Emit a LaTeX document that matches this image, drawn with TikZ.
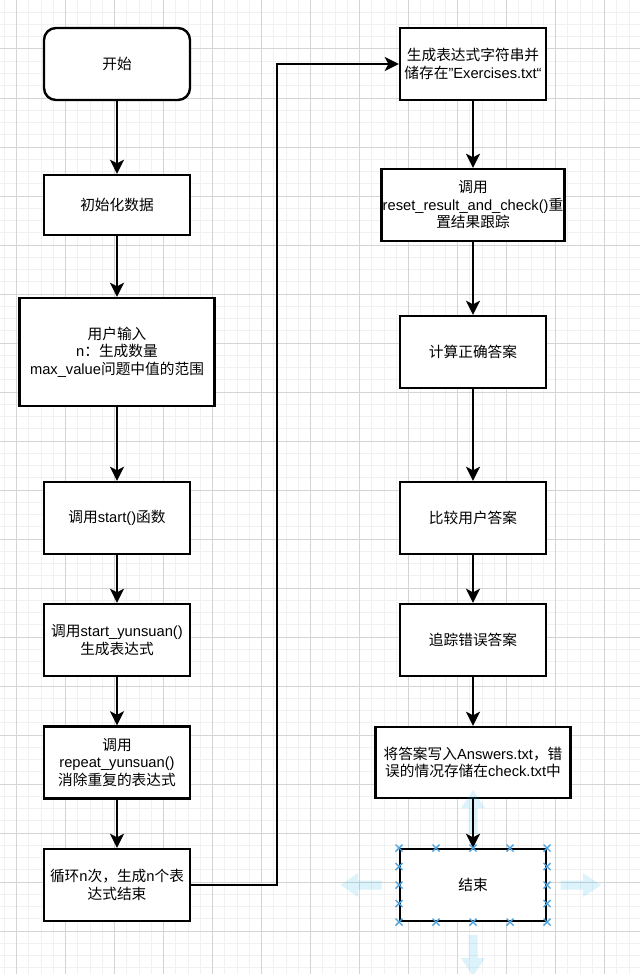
\documentclass[tikz,border=0pt]{standalone}
\usepackage{fontspec}
\setmainfont{Liberation Sans}
\newfontfamily\cjk{Noto Sans CJK SC}
\newcommand\zh[1]{{\cjk #1}}
\usetikzlibrary{arrows.meta,calc}
\definecolor{minorgrid}{RGB}{241,241,241}
\definecolor{majorgrid}{RGB}{212,212,212}
\definecolor{hoverblue}{RGB}{41,182,242}
\definecolor{markblue}{RGB}{74,163,223}
\tikzset{
  box/.style={draw=black, line width=2.4pt, fill=white, align=center, inner sep=1pt,
    minimum width=146pt, minimum height=72pt},
  rbox/.style={box, rounded corners=12pt},
  arr/.style={line width=2.5pt, -{Stealth[length=14pt,width=14pt,inset=3.5pt]}},
  minorg/.style={draw=minorgrid, line width=1pt},
  majorg/.style={draw=majorgrid, line width=1pt},
  hover/.style={fill=hoverblue, fill opacity=0.16, draw=none},
  mk/.style={draw=markblue, line width=1.4pt}
}
\begin{document}
\begin{tikzpicture}[x=1pt, y=-1pt, font=\fontsize{14.7}{17.5}\selectfont]
\useasboundingbox (0,0) rectangle (640,974);
\fill[white] (0,0) rectangle (640,974);
% grid
\foreach \i in {0,...,52}{\draw[minorg] ({4.45+12.25*\i},0) -- ++(0,974);}
\foreach \j in {0,...,79}{\draw[minorg] (0,{12.25*\j}) -- ++(640,0);}
\foreach \i in {0,...,13}{\draw[majorg] ({16.7+49*\i},0) -- ++(0,974);}
\foreach \j in {0,...,19}{\draw[majorg] (0,{49*\j}) -- ++(640,0);}

% left column
\node[rbox] (start) at (117,64) {\zh{开始}};
\node[box, minimum height=60pt] (init) at (117,205) {\zh{初始化数据}};
\node[box, minimum width=195pt, minimum height=108pt] (user) at (117,352)
  {\zh{用户输入}\\n\zh{：生成数量}\\max\_value\zh{问题中值的范围}};
\node[box] (startfn) at (117,518) {\zh{调用}start()\zh{函数}};
\node[box] (yun) at (117,640) {\zh{调用}start\_yunsuan()\\\zh{生成表达式}};
\node[box] (rep) at (117,762.5) {\zh{调用}\\repeat\_yunsuan()\\\zh{消除重复的表达式}};
\node[box] (loop) at (117,885) {\zh{循环}n\zh{次，生成}n\zh{个表}\\\zh{达式结束}};

% right column
\node[box] (gen) at (473,64) {\zh{生成表达式字符串并}\\\zh{储存在}"Exercises.txt“};
\node[box, minimum width=183pt] (reset) at (473,205)
  {\zh{调用}\\reset\_result\_and\_check()\zh{重}\\\zh{置结果跟踪}};
\node[box] (calc) at (473,352) {\zh{计算正确答案}};
\node[box] (cmp) at (473,518) {\zh{比较用户答案}};
\node[box] (track) at (473,640) {\zh{追踪错误答案}};
\node[box, minimum width=195pt, minimum height=71pt] (write) at (473,762.5)
  {\zh{将答案写入}Answers.txt\zh{，错}\\\zh{误的情况存储在}check.txt\zh{中}};
\node[box] (end) at (473,885) {\zh{结束}};

% hover arrows around the selected end box
\path[hover] (473,790) -- (485,808) -- (477.5,808) -- (477.5,834) -- (468.5,834) -- (468.5,808) -- (461,808) -- cycle;
\path[hover] (473,976) -- (485,958) -- (477.5,958) -- (477.5,935) -- (468.5,935) -- (468.5,958) -- (461,958) -- cycle;
\path[hover] (340.7,885) -- (358,873) -- (358,880.5) -- (381.7,880.5) -- (381.7,889.5) -- (358,889.5) -- (358,897) -- cycle;
\path[hover] (601,885) -- (583,873) -- (583,880.5) -- (560.7,880.5) -- (560.7,889.5) -- (583,889.5) -- (583,897) -- cycle;

% connectors
\draw[arr] (start) -- (init);
\draw[arr] (init) -- (user);
\draw[arr] (user) -- (startfn);
\draw[arr] (startfn) -- (yun);
\draw[arr] (yun) -- (rep);
\draw[arr] (rep) -- (loop);
\coordinate (bend) at (277,64);
\draw[arr] (loop.east) -| (bend) -- (gen.west);
\draw[arr] (gen) -- (reset);
\draw[arr] (reset) -- (calc);
\draw[arr] (calc) -- (cmp);
\draw[arr] (cmp) -- (track);
\draw[arr] (track) -- (write);
\draw[arr] (write) -- (end);

% selection markers
\foreach \x in {399,436,473,510,547}{
  \draw[mk] (\x,848) +(-3.5,-3.5) -- +(3.5,3.5) +(-3.5,3.5) -- +(3.5,-3.5);
  \draw[mk] (\x,922) +(-3.5,-3.5) -- +(3.5,3.5) +(-3.5,3.5) -- +(3.5,-3.5);
}
\foreach \y in {866.5,885,903.5}{
  \draw[mk] (399,\y) +(-3.5,-3.5) -- +(3.5,3.5) +(-3.5,3.5) -- +(3.5,-3.5);
  \draw[mk] (547,\y) +(-3.5,-3.5) -- +(3.5,3.5) +(-3.5,3.5) -- +(3.5,-3.5);
}
\end{tikzpicture}
\end{document}
